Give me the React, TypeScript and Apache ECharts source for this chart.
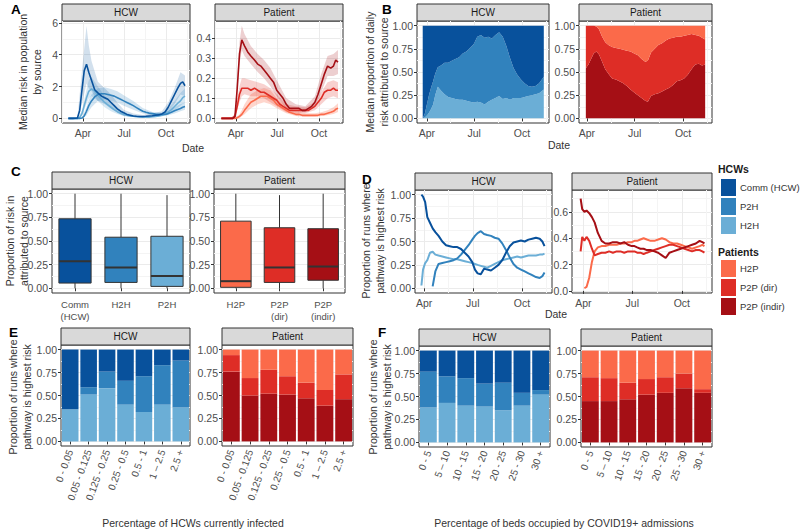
import React, { useEffect, useRef } from "react";
import * as echarts from "echarts";

// ---------------- Panel A: median risk in population by source ----------------
const aDates = ["2020-02-29","2020-03-10","2020-03-20","2020-03-25","2020-03-30","2020-04-04","2020-04-09","2020-04-14","2020-04-20","2020-04-27","2020-05-04","2020-05-12","2020-05-19","2020-05-26","2020-06-02","2020-06-09","2020-06-16","2020-06-23","2020-06-30","2020-07-07","2020-07-14","2020-07-21","2020-07-28","2020-08-04","2020-08-11","2020-08-18","2020-08-25","2020-09-01","2020-09-08","2020-09-15","2020-09-22","2020-09-29","2020-10-06","2020-10-13","2020-10-20","2020-10-27","2020-11-02","2020-11-07","2020-11-12"];
const aHcwComm = [0,0,0.02,0.5,1.8,3.0,3.4,2.9,2.4,1.8,1.6,1.4,1.3,1.2,1.0,0.8,0.6,0.45,0.35,0.25,0.2,0.15,0.13,0.12,0.12,0.13,0.15,0.17,0.2,0.22,0.28,0.4,0.7,1.1,1.5,1.9,2.2,2.3,2.05];
const aHcwP2H = [0,0,0,0,0.02,0.15,0.45,0.8,1.1,1.35,1.5,1.55,1.55,1.5,1.45,1.4,1.3,1.2,1.1,1.0,0.9,0.8,0.68,0.56,0.45,0.38,0.33,0.3,0.27,0.25,0.24,0.25,0.3,0.38,0.48,0.56,0.62,0.7,0.75];
const aHcwH2H = [0,0,0,0.05,0.3,0.8,1.3,1.7,1.85,1.7,1.45,1.2,1.0,0.85,0.7,0.55,0.42,0.32,0.25,0.2,0.15,0.13,0.1,0.09,0.08,0.08,0.08,0.1,0.12,0.15,0.2,0.28,0.4,0.55,0.75,0.95,1.1,1.3,1.4];
const aPatIndir = [0,0,0,0,0.01,0.15,0.32,0.39,0.36,0.33,0.31,0.29,0.27,0.26,0.24,0.22,0.2,0.18,0.14,0.12,0.1,0.07,0.05,0.05,0.05,0.05,0.04,0.04,0.05,0.06,0.08,0.12,0.17,0.22,0.26,0.25,0.26,0.29,0.28];
const aPatDir = [0,0,0,0,0.01,0.06,0.12,0.15,0.15,0.15,0.14,0.15,0.14,0.13,0.13,0.12,0.11,0.1,0.09,0.07,0.06,0.05,0.04,0.04,0.04,0.04,0.04,0.04,0.04,0.05,0.06,0.08,0.1,0.13,0.14,0.14,0.15,0.14,0.14];
const aPatH2P = [0,0,0,0,0,0.003,0.01,0.02,0.04,0.06,0.08,0.09,0.1,0.11,0.11,0.11,0.1,0.09,0.07,0.06,0.05,0.04,0.03,0.025,0.02,0.02,0.015,0.015,0.015,0.015,0.015,0.015,0.02,0.02,0.025,0.03,0.035,0.045,0.05];

// uncertainty ribbons (lower / upper) for panel A
const aRibbonDates = ["2020-02-29","2020-03-20","2020-03-30","2020-04-09","2020-04-14","2020-04-20","2020-05-04","2020-05-19","2020-06-02","2020-06-16","2020-06-30","2020-07-21","2020-08-11","2020-09-01","2020-09-22","2020-10-06","2020-10-20","2020-11-02","2020-11-12"];
const aHcwCommLo = [0,0,0.9,2.2,1.9,1.7,1.1,0.9,0.6,0.35,0.15,0.08,0.07,0.1,0.15,0.35,0.9,1.5,1.4];
const aHcwCommHi = [0,0.05,3.0,5.8,4.6,3.6,2.3,1.9,1.5,1.0,0.55,0.3,0.22,0.3,0.45,1.0,1.9,2.9,2.7];
const aHcwP2HLo = [0,0,0,0.2,0.45,0.7,1.1,1.2,1.1,1.0,0.8,0.55,0.3,0.2,0.17,0.2,0.3,0.45,0.55];
const aHcwP2HHi = [0,0,0.05,0.7,1.15,1.5,1.9,1.95,1.85,1.7,1.45,1.1,0.65,0.4,0.35,0.45,0.7,0.9,1.0];
const aHcwH2HLo = [0,0,0.15,0.9,1.25,1.4,1.1,0.7,0.45,0.28,0.15,0.08,0.05,0.06,0.12,0.25,0.5,0.8,1.0];
const aHcwH2HHi = [0,0,0.5,1.8,2.4,2.6,2.0,1.4,1.0,0.65,0.4,0.22,0.14,0.17,0.3,0.6,1.1,1.6,1.9];
const aPatIndirLo = [0,0,0,0.27,0.34,0.31,0.27,0.23,0.2,0.16,0.11,0.05,0.035,0.03,0.06,0.13,0.21,0.21,0.22];
const aPatIndirHi = [0,0,0.02,0.38,0.46,0.42,0.36,0.32,0.29,0.25,0.19,0.1,0.07,0.06,0.11,0.22,0.31,0.32,0.34];
const aPatDirLo = [0,0,0,0.08,0.11,0.12,0.11,0.11,0.1,0.08,0.06,0.03,0.025,0.025,0.04,0.07,0.1,0.11,0.1];
const aPatDirHi = [0,0,0.02,0.16,0.2,0.2,0.19,0.18,0.17,0.15,0.12,0.07,0.06,0.055,0.08,0.13,0.18,0.19,0.18];
const aPatH2PLo = [0,0,0,0,0.01,0.02,0.05,0.07,0.08,0.07,0.05,0.025,0.012,0.008,0.008,0.012,0.015,0.022,0.032];
const aPatH2PHi = [0,0,0,0.02,0.04,0.07,0.12,0.14,0.15,0.14,0.1,0.06,0.035,0.025,0.025,0.03,0.04,0.055,0.075];

// ---------------- Panel B: median proportion of daily risk ----------------
const bHcwDates = ["2020-03-24","2020-03-28","2020-04-01","2020-04-05","2020-04-09","2020-04-13","2020-04-17","2020-04-22","2020-04-28","2020-05-05","2020-05-12","2020-05-19","2020-05-26","2020-06-02","2020-06-09","2020-06-16","2020-06-23","2020-06-30","2020-07-07","2020-07-14","2020-07-21","2020-07-28","2020-08-04","2020-08-11","2020-08-18","2020-08-25","2020-09-01","2020-09-08","2020-09-15","2020-09-22","2020-09-29","2020-10-06","2020-10-13","2020-10-20","2020-10-27","2020-11-03","2020-11-12"];
const bHcwH2H = [0,0.01,0.03,0.06,0.1,0.15,0.25,0.34,0.3,0.26,0.23,0.22,0.21,0.2,0.2,0.19,0.18,0.17,0.18,0.17,0.15,0.18,0.2,0.22,0.24,0.21,0.22,0.2,0.22,0.22,0.22,0.23,0.24,0.25,0.26,0.27,0.31];
const bHcwP2H = [0,0.04,0.12,0.19,0.23,0.25,0.23,0.21,0.27,0.34,0.37,0.4,0.43,0.46,0.5,0.53,0.58,0.63,0.7,0.73,0.72,0.7,0.66,0.68,0.69,0.67,0.56,0.45,0.32,0.25,0.2,0.15,0.11,0.09,0.09,0.11,0.14];
const bHcwComm = [1,0.95,0.85,0.75,0.67,0.6,0.52,0.45,0.43,0.4,0.4,0.38,0.36,0.34,0.3,0.28,0.24,0.2,0.12,0.1,0.13,0.12,0.14,0.1,0.07,0.12,0.22,0.35,0.46,0.53,0.58,0.62,0.65,0.66,0.65,0.62,0.55];
const bPatDates = ["2020-03-30","2020-04-04","2020-04-09","2020-04-14","2020-04-19","2020-04-24","2020-04-30","2020-05-06","2020-05-12","2020-05-19","2020-05-26","2020-06-02","2020-06-09","2020-06-16","2020-06-23","2020-06-30","2020-07-07","2020-07-14","2020-07-21","2020-07-26","2020-08-01","2020-08-08","2020-08-15","2020-08-22","2020-08-29","2020-09-05","2020-09-12","2020-09-19","2020-09-26","2020-10-03","2020-10-10","2020-10-17","2020-10-24","2020-10-31","2020-11-06","2020-11-12"];
const bPatIndir = [0.54,0.58,0.64,0.7,0.72,0.69,0.61,0.53,0.48,0.43,0.42,0.4,0.38,0.35,0.31,0.28,0.25,0.22,0.19,0.18,0.24,0.26,0.27,0.29,0.31,0.33,0.36,0.4,0.41,0.43,0.47,0.53,0.58,0.59,0.57,0.58];
const bPatDir = [0.46,0.42,0.36,0.3,0.27,0.27,0.27,0.29,0.31,0.34,0.34,0.35,0.36,0.38,0.41,0.42,0.43,0.42,0.42,0.44,0.47,0.49,0.52,0.52,0.53,0.53,0.51,0.48,0.47,0.46,0.43,0.38,0.32,0.3,0.3,0.27];
const bPatH2P = [0,0,0,0,0.01,0.04,0.12,0.18,0.21,0.23,0.24,0.25,0.26,0.27,0.28,0.3,0.32,0.36,0.39,0.38,0.29,0.25,0.21,0.19,0.16,0.14,0.13,0.12,0.12,0.11,0.1,0.09,0.1,0.11,0.13,0.15];

// ---------------- Panel C: boxplots [min, Q1, median, Q3, max] ----------------
const cHcwCats = ["Comm\n(HCW)", "H2H", "P2H"];
const cHcwStats = [[0,0.055,0.285,0.735,1.0],[0,0.062,0.22,0.54,1.0],[0,0.02,0.13,0.55,0.985]];
const cPatCats = ["H2P", "P2P\n(dir)", "P2P\n(indir)"];
const cPatStats = [[0,0.01,0.075,0.71,1.0],[0,0.062,0.22,0.64,0.985],[0,0.085,0.23,0.63,1.0]];

// ---------------- Panel D: proportion of runs where pathway is highest risk ----------------
const dDates = ["2020-03-27","2020-03-30","2020-04-03","2020-04-07","2020-04-12","2020-04-17","2020-04-22","2020-04-28","2020-05-05","2020-05-12","2020-05-19","2020-05-26","2020-06-02","2020-06-09","2020-06-16","2020-06-23","2020-06-30","2020-07-05","2020-07-10","2020-07-16","2020-07-22","2020-07-28","2020-08-04","2020-08-11","2020-08-18","2020-08-25","2020-09-01","2020-09-08","2020-09-15","2020-09-22","2020-09-29","2020-10-06","2020-10-13","2020-10-20","2020-10-27","2020-11-03","2020-11-08","2020-11-12"];
const dHcwComm = [1.0,0.98,0.92,0.76,0.7,0.64,0.6,0.56,0.5,0.46,0.45,0.44,0.44,0.42,0.38,0.34,0.28,0.2,0.16,0.15,0.21,0.2,0.19,0.22,0.25,0.3,0.38,0.45,0.49,0.5,0.51,0.5,0.52,0.53,0.54,0.53,0.5,0.45];
const dHcwP2H = [null,null,null,null,null,0.02,0.18,0.26,0.27,0.28,0.29,0.3,0.32,0.36,0.41,0.46,0.52,0.56,0.59,0.61,0.58,0.57,0.56,0.54,0.53,0.48,0.41,0.33,0.26,0.22,0.2,0.18,0.16,0.14,0.12,0.11,0.13,0.17];
const dHcwH2H = [0.03,0.2,0.27,0.3,0.38,0.39,0.36,0.35,0.34,0.33,0.32,0.31,0.31,0.3,0.29,0.28,0.27,0.26,0.25,0.24,0.23,0.22,0.24,0.26,0.28,0.3,0.31,0.32,0.33,0.34,0.33,0.34,0.35,0.35,0.35,0.36,0.36,0.37];
const dPatIndir = [0.7,0.62,0.6,0.61,0.59,0.56,0.52,0.44,0.38,0.36,0.36,0.37,0.37,0.36,0.37,0.35,0.34,0.34,0.33,0.32,0.32,0.31,0.31,0.3,0.29,0.27,0.25,0.29,0.3,0.31,0.32,0.33,0.34,0.35,0.36,0.38,0.37,0.36];
const dPatDir = [0.3,0.41,0.38,0.41,0.38,0.32,0.27,0.28,0.29,0.29,0.3,0.29,0.3,0.3,0.29,0.3,0.3,0.3,0.29,0.29,0.28,0.29,0.3,0.31,0.32,0.33,0.34,0.35,0.35,0.34,0.33,0.32,0.31,0.3,0.31,0.31,0.3,0.29];
const dPatH2P = [null,null,0.02,0.03,0.1,0.22,0.3,0.33,0.34,0.34,0.35,0.35,0.35,0.36,0.36,0.37,0.37,0.38,0.38,0.39,0.4,0.39,0.38,0.38,0.39,0.4,0.39,0.37,0.36,0.36,0.35,0.34,0.33,0.32,0.33,0.34,0.35,0.34];

// ---------------- Panel E: by percentage of HCWs currently infected ----------------
const eCats = ["0 - 0.05","0.05 - 0.125","0.125 - 0.25","0.25 - 0.5","0.5 - 1","1 \u2013 2.5","2.5 +"];
const eHcwH2H = [0.35,0.51,0.58,0.4,0.32,0.4,0.37];
const eHcwP2H = [0.0,0.08,0.18,0.26,0.39,0.43,0.51];
const eHcwComm = [0.65,0.41,0.24,0.34,0.29,0.17,0.12];
const ePatIndir = [0.76,0.5,0.52,0.51,0.47,0.39,0.46];
const ePatDir = [0.18,0.19,0.26,0.2,0.17,0.17,0.27];
const ePatH2P = [0.06,0.31,0.22,0.29,0.36,0.44,0.27];

// ---------------- Panel F: by percentage of beds occupied by COVID19+ admissions ----------------
const fCats = ["0 - 5","5 \u2013 10","10 - 15","15 - 20","20 - 25","25 - 30","30 +"];
const fHcwH2H = [0.38,0.43,0.4,0.39,0.35,0.4,0.52];
const fHcwP2H = [0.39,0.29,0.3,0.25,0.3,0.14,0.05];
const fHcwComm = [0.23,0.28,0.3,0.36,0.35,0.46,0.43];
const fPatIndir = [0.45,0.45,0.47,0.52,0.54,0.59,0.54];
const fPatDir = [0.26,0.25,0.18,0.17,0.17,0.16,0.04];
const fPatH2P = [0.29,0.3,0.35,0.31,0.29,0.25,0.42];

// ---------------- tick labels ----------------
const monthTicks = ["2020-04-01", "2020-07-01", "2020-10-01"];
const monthNames = ["Jan","Feb","Mar","Apr","May","Jun","Jul","Aug","Sep","Oct","Nov","Dec"];
const propTicks = [0, 0.25, 0.5, 0.75, 1];
const aHcwTicks = [0, 2, 4, 6];
const aPatTicks = [0, 0.1, 0.2, 0.3, 0.4];
const dPatTicks = [0, 0.2, 0.4, 0.6];

// ---------------- styling ----------------
const FONT = '"Liberation Sans", Arial, Helvetica, sans-serif';
const BLUE = { comm: "#08519C", p2h: "#3182BD", h2h: "#6BAED6" };
const RED = { h2p: "#FB6A4A", dir: "#DE2D26", indir: "#A50F15" };
const TICK_COL = "#4D4D4D";
const TITLE_COL = "#333333";

const GRIDS = [
  { left: 62, top: 21, width: 128, height: 102 },
  { left: 215, top: 21, width: 128, height: 102 },
  { left: 417, top: 21, width: 132, height: 102 },
  { left: 579, top: 21, width: 133, height: 102 },
  { left: 52, top: 189, width: 138, height: 104 },
  { left: 214, top: 189, width: 131, height: 104 },
  { left: 415, top: 190, width: 137, height: 103 },
  { left: 572, top: 190, width: 140, height: 103 },
  { left: 61, top: 345, width: 129, height: 101 },
  { left: 222, top: 345, width: 131, height: 101 },
  { left: 419, top: 346, width: 131, height: 101 },
  { left: 581, top: 346, width: 131, height: 101 },
];
const STRIP_H = 17;

const DAY_MS = 86400000;
const day = (s: string) => {
  const [y, m, d] = s.split("-").map(Number);
  return (Date.UTC(y, m - 1, d) - Date.UTC(2020, 0, 1)) / DAY_MS;
};
const majorX = monthTicks.map(day);
const quarterBounds = [day("2020-01-01"), ...majorX, day("2021-01-01")];
const minorX = quarterBounds.slice(1).map((v, i) => (v + quarterBounds[i]) / 2);
const monthFmt = (v: number) => monthNames[new Date(Date.UTC(2020, 0, 1) + Math.round(v) * DAY_MS).getUTCMonth()];
const midpoints = (t: number[]) => t.slice(1).map((v, i) => (v + t[i]) / 2);

const tickLabel = { color: TICK_COL, fontSize: 10.5, fontFamily: FONT, margin: 4 };
const tickStyle = { show: true, length: 3, lineStyle: { color: "#333333", width: 1 } };

const xAxes: any[] = [];
const yAxes: any[] = [];

function mainValAxis(g: number, pos: string, min: number, max: number, ticks: number[], fmt: any) {
  return {
    type: "value", gridIndex: g, position: pos, min, max,
    axisLine: { show: false },
    axisTick: { ...tickStyle, customValues: ticks },
    axisLabel: { ...tickLabel, customValues: ticks, formatter: fmt },
    splitLine: { show: true, lineStyle: { color: "#EBEBEB", width: 1 } },
  };
}
function minorValAxis(g: number, pos: string, min: number, max: number, ticks: number[]) {
  return {
    type: "value", gridIndex: g, position: pos, min, max,
    axisLine: { show: false },
    axisLabel: { show: false },
    axisTick: { show: false, customValues: ticks.filter((v) => v > min && v < max) },
    splitLine: { show: true, lineStyle: { color: "#F4F4F4", width: 1 } },
  };
}
function timeX(g: number, min: number, max: number) {
  xAxes[2 * g] = mainValAxis(g, "bottom", min, max, majorX, monthFmt);
  xAxes[2 * g + 1] = minorValAxis(g, "bottom", min, max, minorX);
}
function catX(g: number, cats: string[], extra: any) {
  xAxes[2 * g] = {
    type: "category", gridIndex: g, position: "bottom", data: cats,
    axisLine: { show: false },
    axisTick: { ...tickStyle, alignWithLabel: true },
    axisLabel: { ...tickLabel, interval: 0, ...extra },
    splitLine: { show: false },
  };
  xAxes[2 * g + 1] = { type: "value", gridIndex: g, show: false, min: 0, max: 1 };
}
function valY(g: number, min: number, max: number, ticks: number[], fmt: any) {
  yAxes[2 * g] = mainValAxis(g, "left", min, max, ticks, fmt);
  const step = ticks[1] - ticks[0];
  yAxes[2 * g + 1] = minorValAxis(g, "left", min, max, midpoints(ticks).concat([ticks[ticks.length - 1] + step / 2]));
}

const f2 = (v: number) => v.toFixed(2);
const f1 = (v: number) => v.toFixed(1);
const f0 = (v: number) => String(Math.round(v));

// A
timeX(0, day("2020-02-15"), day("2020-11-23"));
valY(0, -0.29, 6.12, aHcwTicks, f0);
timeX(1, day("2020-02-15"), day("2020-11-23"));
valY(1, -0.023, 0.484, aPatTicks, f1);
// B
timeX(2, day("2020-03-13"), day("2020-11-22"));
valY(2, -0.05, 1.05, propTicks, f2);
timeX(3, day("2020-03-17"), day("2020-11-25"));
valY(3, -0.05, 1.05, propTicks, f2);
// C
catX(4, cHcwCats, { fontSize: 9.5, lineHeight: 12, margin: 5 });
valY(4, -0.05, 1.05, propTicks, f2);
catX(5, cPatCats, { fontSize: 9.5, lineHeight: 12, margin: 5 });
valY(5, -0.05, 1.05, propTicks, f2);
// D
timeX(6, day("2020-03-15"), day("2020-11-26"));
valY(6, -0.05, 1.05, propTicks, f2);
timeX(7, day("2020-03-11"), day("2020-11-26"));
valY(7, -0.016, 0.766, dPatTicks, f1);
// E, F
catX(8, eCats, { rotate: 70, fontSize: 10 });
valY(8, -0.05, 1.05, propTicks, f2);
catX(9, eCats, { rotate: 70, fontSize: 10 });
valY(9, -0.05, 1.05, propTicks, f2);
catX(10, fCats, { rotate: 70, fontSize: 10 });
valY(10, -0.05, 1.05, propTicks, f2);
catX(11, fCats, { rotate: 70, fontSize: 10 });
valY(11, -0.05, 1.05, propTicks, f2);

// ---------------- series ----------------
const series: any[] = [];
const xy = (g: number) => ({ xAxisIndex: 2 * g, yAxisIndex: 2 * g });
const pts = (dates: string[], vals: (number | null)[]) => dates.map((d, i) => [day(d), vals[i]]);

function line(g: number, name: string, dates: string[], vals: (number | null)[], color: string, width: number) {
  series.push({
    type: "line", name, ...xy(g), data: pts(dates, vals), symbol: "none", showSymbol: false,
    connectNulls: false, lineStyle: { color, width }, itemStyle: { color }, z: 3,
  });
}
// filled band between a lower and an upper boundary, both mapped through the axes
function band(g: number, name: string | undefined, dates: string[], lo: number[], hi: number[], color: string, opacity: number) {
  const top = pts(dates, hi);
  const bottom = pts(dates, lo);
  series.push({
    type: "custom", name, ...xy(g), silent: true, z: 2,
    encode: { x: 0, y: 1 },
    data: [[day(dates[0]), hi[0]]],
    renderItem: (_params: any, api: any) => {
      const poly = top.concat(bottom.slice().reverse()).map((p) => api.coord(p));
      return { type: "polygon", shape: { points: poly }, style: { fill: color, opacity, stroke: null } };
    },
  });
}
function stackedAreas(g: number, dates: string[], layers: { name: string; vals: number[]; color: string }[]) {
  let base = dates.map(() => 0);
  layers.forEach((l) => {
    const top = base.map((b, i) => b + l.vals[i]);
    band(g, undefined, dates, base, top, l.color, 1);
    base = top;
  });
}
function bar(g: number, name: string, vals: number[], color: string, stack: string) {
  series.push({
    type: "bar", name, ...xy(g), stack, data: vals, barCategoryGap: "10%",
    itemStyle: { color }, z: 2,
  });
}
function boxes(g: number, stats: number[][], colors: string[]) {
  series.push({
    type: "custom", ...xy(g), encode: { x: 0, y: [1, 2, 3, 4, 5] },
    data: stats.map((s, i) => [i, ...s]),
    renderItem: (params: any, api: any) => {
      const i = api.value(0);
      const lo = api.coord([i, api.value(1)]);
      const q1 = api.coord([i, api.value(2)]);
      const md = api.coord([i, api.value(3)]);
      const q3 = api.coord([i, api.value(4)]);
      const hi = api.coord([i, api.value(5)]);
      const w = api.size([1, 0])[0] * 0.7;
      const stroke = { stroke: "#333333", lineWidth: 1 };
      return {
        type: "group",
        children: [
          { type: "line", shape: { x1: lo[0], y1: lo[1], x2: q1[0], y2: q1[1] }, style: stroke },
          { type: "line", shape: { x1: q3[0], y1: q3[1], x2: hi[0], y2: hi[1] }, style: stroke },
          { type: "rect", shape: { x: q1[0] - w / 2, y: q3[1], width: w, height: q1[1] - q3[1] }, style: { fill: colors[params.dataIndex], ...stroke } },
          { type: "line", shape: { x1: md[0] - w / 2, y1: md[1], x2: md[0] + w / 2, y2: md[1] }, style: { stroke: "#333333", lineWidth: 2 } },
        ],
      };
    },
  });
}

// E/F bars first so legend keys resolve to filled marks
bar(8, "H2H", eHcwH2H, BLUE.h2h, "eh");
bar(8, "P2H", eHcwP2H, BLUE.p2h, "eh");
bar(8, "Comm (HCW)", eHcwComm, BLUE.comm, "eh");
bar(9, "P2P (indir)", ePatIndir, RED.indir, "ep");
bar(9, "P2P (dir)", ePatDir, RED.dir, "ep");
bar(9, "H2P", ePatH2P, RED.h2p, "ep");
bar(10, "H2H", fHcwH2H, BLUE.h2h, "fh");
bar(10, "P2H", fHcwP2H, BLUE.p2h, "fh");
bar(10, "Comm (HCW)", fHcwComm, BLUE.comm, "fh");
bar(11, "P2P (indir)", fPatIndir, RED.indir, "fp");
bar(11, "P2P (dir)", fPatDir, RED.dir, "fp");
bar(11, "H2P", fPatH2P, RED.h2p, "fp");

// A
band(0, undefined, aRibbonDates, aHcwH2HLo, aHcwH2HHi, BLUE.h2h, 0.28);
band(0, undefined, aRibbonDates, aHcwP2HLo, aHcwP2HHi, BLUE.p2h, 0.22);
band(0, undefined, aRibbonDates, aHcwCommLo, aHcwCommHi, BLUE.comm, 0.18);
line(0, "H2H", aDates, aHcwH2H, BLUE.h2h, 1.6);
line(0, "P2H", aDates, aHcwP2H, BLUE.p2h, 1.6);
line(0, "Comm (HCW)", aDates, aHcwComm, BLUE.comm, 1.6);
band(1, undefined, aRibbonDates, aPatH2PLo, aPatH2PHi, RED.h2p, 0.28);
band(1, undefined, aRibbonDates, aPatDirLo, aPatDirHi, RED.dir, 0.22);
band(1, undefined, aRibbonDates, aPatIndirLo, aPatIndirHi, RED.indir, 0.2);
line(1, "H2P", aDates, aPatH2P, RED.h2p, 1.6);
line(1, "P2P (dir)", aDates, aPatDir, RED.dir, 1.6);
line(1, "P2P (indir)", aDates, aPatIndir, RED.indir, 1.6);

// B
stackedAreas(2, bHcwDates, [
  { name: "H2H", vals: bHcwH2H, color: BLUE.h2h },
  { name: "P2H", vals: bHcwP2H, color: BLUE.p2h },
  { name: "Comm (HCW)", vals: bHcwComm, color: BLUE.comm },
]);
stackedAreas(3, bPatDates, [
  { name: "P2P (indir)", vals: bPatIndir, color: RED.indir },
  { name: "P2P (dir)", vals: bPatDir, color: RED.dir },
  { name: "H2P", vals: bPatH2P, color: RED.h2p },
]);

// C
boxes(4, cHcwStats, [BLUE.comm, BLUE.p2h, BLUE.h2h]);
boxes(5, cPatStats, [RED.h2p, RED.dir, RED.indir]);

// D
line(6, "H2H", dDates, dHcwH2H, BLUE.h2h, 2);
line(6, "P2H", dDates, dHcwP2H, BLUE.p2h, 2);
line(6, "Comm (HCW)", dDates, dHcwComm, BLUE.comm, 2);
line(7, "H2P", dDates, dPatH2P, RED.h2p, 2);
line(7, "P2P (dir)", dDates, dPatDir, RED.dir, 2);
line(7, "P2P (indir)", dDates, dPatIndir, RED.indir, 2);

// ---------------- graphic texts ----------------
const stripLabels = ["HCW", "Patient"];
const panelLetters: [string, number, number][] = [["A", 11, 3], ["B", 382, 3], ["C", 11, 165], ["D", 362, 173], ["E", 9, 326], ["F", 378, 326]];
const xTitles: [string, number, number][] = [
  ["Date", 193, 148], ["Date", 559, 145], ["Date", 556, 314],
  ["Percentage of HCWs currently infected", 193, 523],
  ["Percentage of beds occupied by COVID19+ admissions", 564, 523],
];
const yTitles: [string, number, number][] = [
  ["Median risk in population\nby source", 30, 72],
  ["Median proportion of daily\nrisk attributed to source", 377, 72],
  ["Proportion of risk in\nattributed to source", 17, 241],
  ["Proportion of runs where\npathway is highest risk", 373, 241],
  ["Proportion of runs where\npathway is highest risk", 20, 397],
  ["Proportion of runs where\npathway is highest risk", 380, 397],
];

const txt = (text: string, x: number, y: number, o: any) => ({
  type: "text", x, y, rotation: o.rotation || 0, silent: true,
  style: {
    text, fill: o.fill || TITLE_COL, fontSize: o.fontSize || 10.5, fontFamily: FONT, fontWeight: o.fontWeight || "normal",
    textAlign: o.align || "center", align: o.align || "center",
    textVerticalAlign: o.valign || "middle", verticalAlign: o.valign || "middle", lineHeight: o.lineHeight || 13,
  },
});

const elements: any[] = [];
GRIDS.forEach((g, i) => {
  elements.push({
    type: "rect", silent: true,
    shape: { x: g.left, y: g.top - STRIP_H, width: g.width, height: STRIP_H },
    style: { fill: "#D9D9D9", stroke: "#333333", lineWidth: 1 },
  });
  elements.push(txt(stripLabels[i % 2], g.left + g.width / 2, g.top - STRIP_H / 2, { fill: "#1A1A1A", fontSize: 10 }));
});
panelLetters.forEach(([t, x, y]) => elements.push(txt(t, x, y, { fill: "#000", fontSize: 13.5, fontWeight: "bold", align: "left", valign: "top" })));
xTitles.forEach(([t, x, y]) => elements.push(txt(t, x, y, {})));
yTitles.forEach(([t, x, y]) => elements.push(txt(t, x, y, { rotation: Math.PI / 2, lineHeight: 14 })));
elements.push(txt("HCWs", 718, 169, { fill: "#1A1A1A", fontWeight: "bold", align: "left" }));
elements.push(txt("Patients", 718, 252, { fill: "#1A1A1A", fontWeight: "bold", align: "left" }));

const legendBase = {
  orient: "vertical", padding: 0, itemWidth: 15, itemHeight: 17, itemGap: 2, icon: "rect",
  selectedMode: false, itemStyle: { borderWidth: 0 },
  textStyle: { fontSize: 9.5, color: "#333333", fontFamily: FONT, padding: [0, 0, 0, -1] },
};

export default function App() {
  const ref = useRef<HTMLDivElement>(null);
  useEffect(() => {
    if (!ref.current) return;
    const chart = echarts.init(ref.current, null, { renderer: "svg" });
    chart.setOption({
      animation: false,
      backgroundColor: "#ffffff",
      textStyle: { fontFamily: FONT },
      grid: GRIDS.map((g) => ({ ...g, show: true, borderColor: "#333333", borderWidth: 1, backgroundColor: "#ffffff", containLabel: false })),
      xAxis: xAxes,
      yAxis: yAxes,
      legend: [
        { ...legendBase, left: 721, top: 179, data: ["Comm (HCW)", "P2H", "H2H"] },
        { ...legendBase, left: 721, top: 260, data: ["H2P", "P2P (dir)", "P2P (indir)"] },
      ],
      series,
      graphic: elements,
    });
    return () => chart.dispose();
  }, []);
  return <div ref={ref} style={{ position: "absolute", left: 0, top: 0, width: 800, height: 532 }} />;
}
